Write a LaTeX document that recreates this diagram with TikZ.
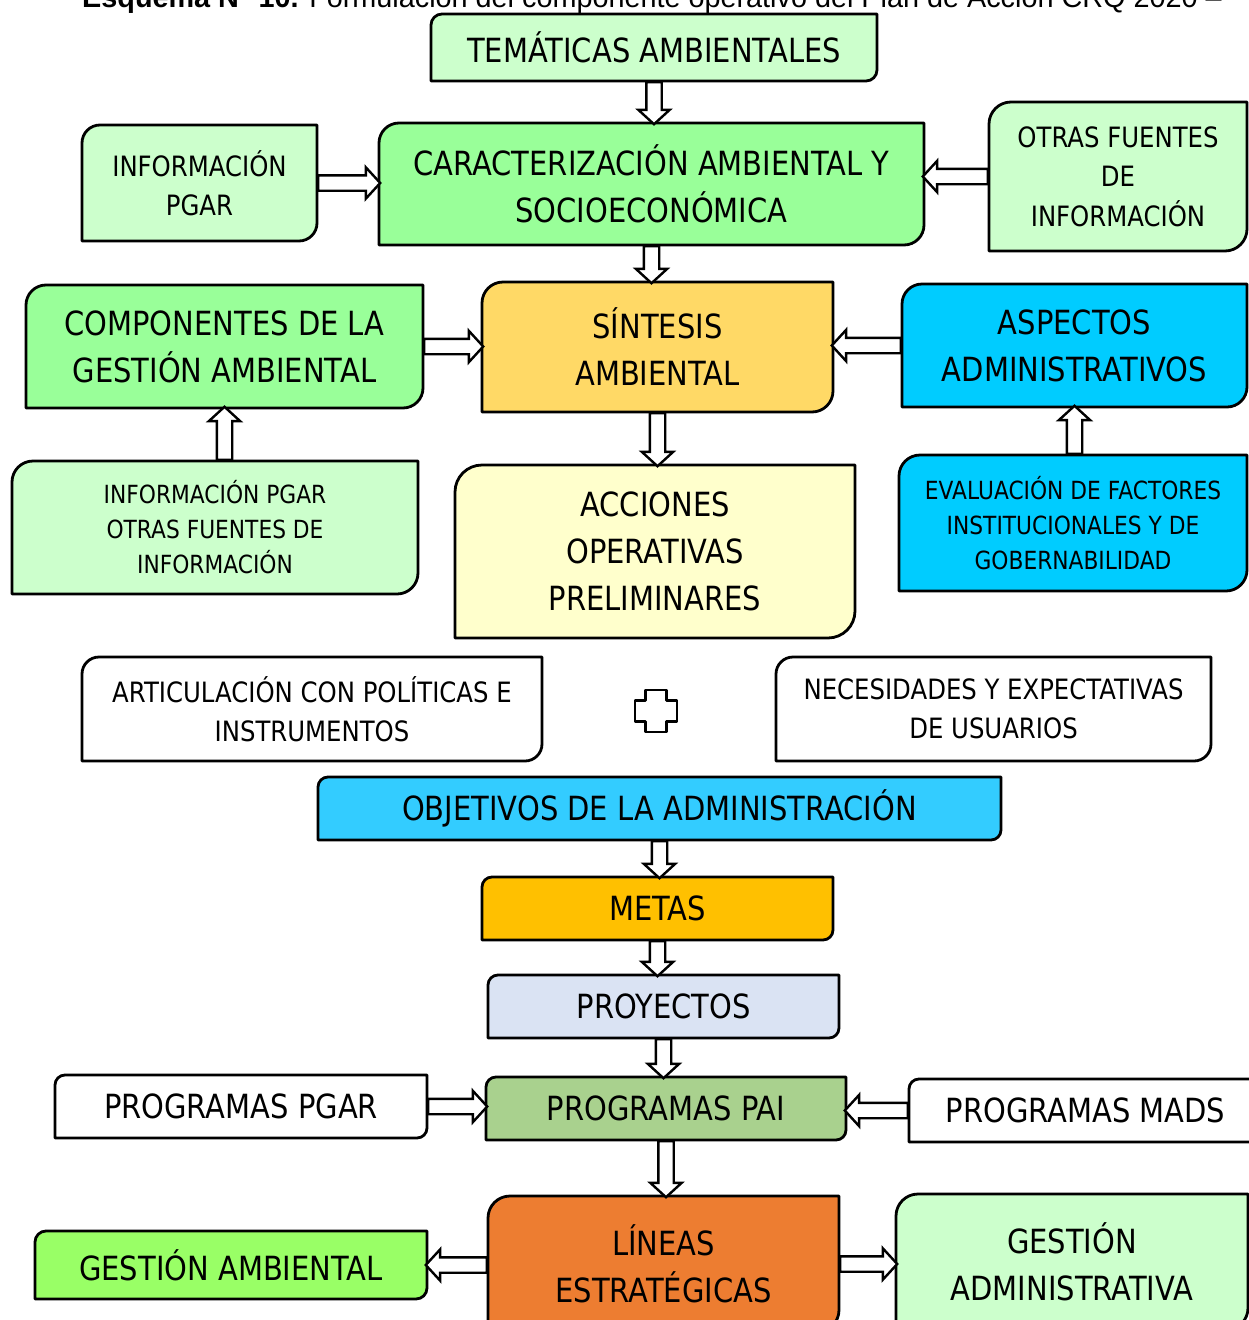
\documentclass[tikz,border=0pt]{standalone}
\usepackage{fontspec}
\setmainfont{DejaVu Sans}[FakeStretch=0.87]
\newfontfamily\titlef{Liberation Sans}
\usepackage{xcolor}
\definecolor{vclaro}{HTML}{CCFFCC}
\definecolor{verde}{HTML}{99FF99}
\definecolor{oro}{HTML}{FFD966}
\definecolor{cian}{HTML}{00CCFF}
\definecolor{crema}{HTML}{FFFFCC}
\definecolor{celeste}{HTML}{33CCFF}
\definecolor{ambar}{HTML}{FFC000}
\definecolor{azulp}{HTML}{DAE3F3}
\definecolor{salvia}{HTML}{A9D18E}
\definecolor{lima}{HTML}{99FF66}
\definecolor{naranja}{HTML}{ED7D31}
\usetikzlibrary{calc,shapes.arrows,backgrounds}
\tikzset{
  box/.style={inner sep=0pt,outer sep=0pt,align=center},
  big/.style={box,font=\fontsize{33.3}{47}\selectfont},
  mid/.style={box,font=\fontsize{28}{39.5}\selectfont},
  sml/.style={box,font=\fontsize{25}{35}\selectfont},
  frame/.style={draw=black,line width=2.8pt,line join=round},
  blk/.style={single arrow,draw=black,fill=white,line width=2.4pt,inner xsep=0pt,inner ysep=6.5pt,
    minimum width=31pt,single arrow head extend=8pt,single arrow tip angle=95,anchor=tail},
}

\begin{document}
\begin{tikzpicture}[x=1pt,y=-1pt]
\useasboundingbox (0,0) rectangle (1248,1320);
\node[anchor=base west,inner sep=0pt,font=\titlef\fontsize{28.8}{34}\selectfont] (titulo) at (82,7)
  {\textbf{Esquema N° 10.} Formulación del componente operativo del Plan de Acción CRQ 2020 –};

% bloques
\node[big,minimum width=446pt,minimum height=67pt] (tem) at (654,47.5) {TEMÁTICAS AMBIENTALES};
\node[mid,minimum width=235pt,minimum height=116pt] (info1) at (199.5,183) {INFORMACIÓN\\PGAR};
\node[big,minimum width=545pt,minimum height=122pt] (car) at (651.5,184) {CARACTERIZACIÓN AMBIENTAL Y\\SOCIOECONÓMICA};
\node[mid,minimum width=258pt,minimum height=149pt] (otras) at (1118,176.5) {OTRAS FUENTES\\DE\\INFORMACIÓN};
\node[big,minimum width=397pt,minimum height=123pt] (comp) at (224.5,346.5) {COMPONENTES DE LA\\GESTIÓN AMBIENTAL};
\node[big,minimum width=351pt,minimum height=130pt] (sin) at (657.5,347) {SÍNTESIS\\AMBIENTAL};
\node[big,minimum width=345pt,minimum height=123pt] (asp) at (1074.5,345.5) {ASPECTOS\\ADMINISTRATIVOS};
\node[sml,minimum width=406pt,minimum height=133pt] (info2) at (215,527.5) {INFORMACIÓN PGAR\\OTRAS FUENTES DE\\INFORMACIÓN};
\node[big,minimum width=400pt,minimum height=173pt] (acc) at (655,551.5) {ACCIONES\\OPERATIVAS\\PRELIMINARES};
\node[sml,minimum width=348pt,minimum height=136pt] (eval) at (1073,523) {EVALUACIÓN DE FACTORES\\INSTITUCIONALES Y DE\\GOBERNABILIDAD};
\node[mid,minimum width=460pt,minimum height=104pt] (art) at (312,709) {ARTICULACIÓN CON POLÍTICAS E\\INSTRUMENTOS};
\node[mid,minimum width=435pt,minimum height=104pt] (nec) at (993.5,709) {NECESIDADES Y EXPECTATIVAS\\DE USUARIOS};
\node[big,minimum width=683pt,minimum height=63pt] (obj) at (659.5,808.5) {OBJETIVOS DE LA ADMINISTRACIÓN};
\node[big,minimum width=351pt,minimum height=63pt] (metas) at (657.5,908.5) {METAS};
\node[big,minimum width=351pt,minimum height=63pt] (proy) at (663.5,1006.5) {PROYECTOS};
\node[big,minimum width=372pt,minimum height=63pt] (pgar) at (241,1106.5) {PROGRAMAS PGAR};
\node[big,minimum width=360pt,minimum height=63pt] (pai) at (666,1108.5) {PROGRAMAS PAI};
\node[big,minimum width=353pt,minimum height=63pt] (mads) at (1085.5,1110.5) {PROGRAMAS MADS};
\node[big,minimum width=392pt,minimum height=68pt] (gamb) at (231,1265) {GESTIÓN AMBIENTAL};
\node[big,minimum width=351pt,minimum height=136pt] (lin) at (663.5,1264) {LÍNEAS\\ESTRATÉGICAS};
\node[big,minimum width=352pt,minimum height=136pt] (gadm) at (1072,1262) {GESTIÓN\\ADMINISTRATIVA};

% marcos con esquinas redondeadas en diagonal
\begin{scope}[on background layer]
\foreach \n/\c/\r in {tem/vclaro/11,info1/vclaro/18,car/verde/20,otras/vclaro/22,comp/verde/20,
  sin/oro/21,asp/cian/20,info2/vclaro/21,acc/crema/27,eval/cian/21,art/white/17,nec/white/17,
  obj/celeste/10,metas/ambar/10,proy/azulp/10,pgar/white/10,pai/salvia/10,mads/white/10,
  gamb/lima/11,lin/naranja/22,gadm/vclaro/22}
  \draw[frame,fill=\c] ([yshift=-\r pt]\n.north west) arc[start angle=180,end angle=90,radius=\r pt]
    -- (\n.north east) -- ([yshift=\r pt]\n.south east) arc[start angle=0,end angle=-90,radius=\r pt]
    -- (\n.south west) -- cycle;
\end{scope}

% signo mas
\draw[frame,line width=2.5pt,fill=white] (645.5,690) -- (666.5,690) -- (666.5,700.5) -- (677,700.5)
  -- (677,721.5) -- (666.5,721.5) -- (666.5,732) -- (645.5,732) -- (645.5,721.5) -- (635,721.5)
  -- (635,700.5) -- (645.5,700.5) -- cycle;

% flechas de bloque
\foreach \src/\dst in {tem.south/tem.south|-car.north, info1.east/info1.east-|car.west,
  otras.west/otras.west-|car.east, car.south/car.south|-sin.north, comp.east/comp.east-|sin.west,
  asp.west/asp.west-|sin.east, comp.south|-info2.north/comp.south, sin.south/sin.south|-acc.north,
  asp.south|-eval.north/asp.south, obj.south/obj.south|-metas.north, metas.south/metas.south|-proy.north,
  proy.south/proy.south|-pai.north, pgar.east/pgar.east-|pai.west, mads.west/mads.west-|pai.east,
  pai.south/pai.south|-lin.north, gamb.east-|lin.west/gamb.east, lin.east/lin.east-|gadm.west}
  \path let \p1=(\src), \p2=(\dst), \n1={veclen(\x2-\x1,\y2-\y1)}, \n2={atan2(\y2-\y1,\x2-\x1)} in
    node[blk,minimum height=\n1,rotate=\n2] at (\p1) {};
\end{tikzpicture}
\end{document}
